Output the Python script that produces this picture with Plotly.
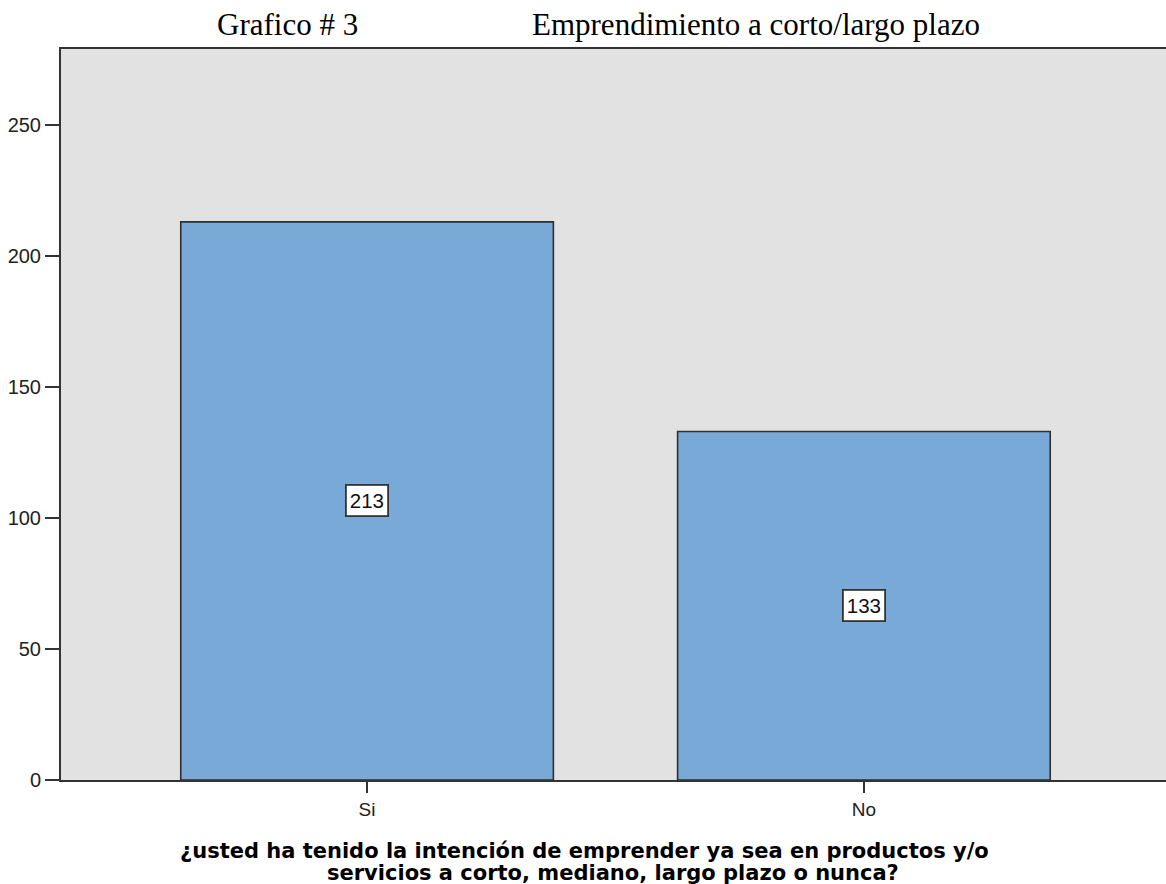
import plotly.graph_objects as go

categories = ["Si", "No"]
counts = [213, 133]
y_ticks = [0, 50, 100, 150, 200, 250]

title_left = "Grafico # 3"
title_right = "Emprendimiento a corto/largo plazo"
xtitle_line1 = "¿usted ha tenido la intención de emprender ya sea en productos y/o"
xtitle_line2 = "servicios a corto, mediano, largo plazo o nunca?"

W, H = 1166, 884
L, R, T, B = 61, 0, 49, 104
PW, PH = W - L - R, H - T - B


def px_x(p):
    return (p - L) / PW


def px_y(p):
    return (H - B - p) / PH


fig = go.Figure()
fig.add_trace(go.Bar(
    x=categories, y=counts,
    marker=dict(color="#79A9D7", line=dict(color="#2F2F2F", width=1.6)),
    hoverinfo="skip",
))

annotations = []
for c, v in zip(categories, counts):
    annotations.append(dict(
        x=c, y=v / 2, xref="x", yref="y", text=str(v), showarrow=False,
        font=dict(family="Liberation Sans, Arial", size=20.5, color="#111111"),
        bgcolor="white", bordercolor="#333333", borderwidth=1.8, borderpad=3,
    ))

annotations += [
    dict(x=px_x(215), y=px_y(25), xref="paper", yref="paper", text=title_left,
         showarrow=False, xanchor="left", yanchor="middle",
         font=dict(family="Liberation Serif, Times New Roman", size=31, color="black")),
    dict(x=px_x(530), y=px_y(25), xref="paper", yref="paper", text=title_right,
         showarrow=False, xanchor="left", yanchor="middle",
         font=dict(family="Liberation Serif, Times New Roman", size=31, color="black")),
    dict(x=px_x(584), y=px_y(851), xref="paper", yref="paper", text="<b>" + xtitle_line1 + "</b>",
         showarrow=False, xanchor="center", yanchor="middle",
         font=dict(family="DejaVu Sans", size=21, color="black")),
    dict(x=px_x(613), y=px_y(873), xref="paper", yref="paper", text="<b>" + xtitle_line2 + "</b>",
         showarrow=False, xanchor="center", yanchor="middle",
         font=dict(family="DejaVu Sans", size=21, color="black")),
]

fig.update_layout(
    width=W, height=H,
    margin=dict(l=L, r=R, t=T, b=B),
    paper_bgcolor="white", plot_bgcolor="#E2E2E2",
    bargap=0.25, showlegend=False,
    annotations=annotations,
    xaxis=dict(
        type="category", range=[-0.616, 1.608],
        showline=True, linecolor="#333333", linewidth=2, mirror=True,
        ticks="outside", ticklen=11, tickwidth=2, tickcolor="#333333",
        tickfont=dict(family="Liberation Sans, Arial", size=19, color="#222222"),
        showgrid=False, zeroline=False,
    ),
    yaxis=dict(
        range=[0, 279], tickvals=y_ticks,
        showline=True, linecolor="#333333", linewidth=2,
        ticks="outside", ticklen=14, tickwidth=2, tickcolor="#333333",
        tickfont=dict(family="Liberation Sans, Arial", size=20, color="#222222"),
        showgrid=False, zeroline=False,
    ),
)

fig.write_html("out.html", config={"displayModeBar": False},
               post_script="document.body.style.margin='0px';")
